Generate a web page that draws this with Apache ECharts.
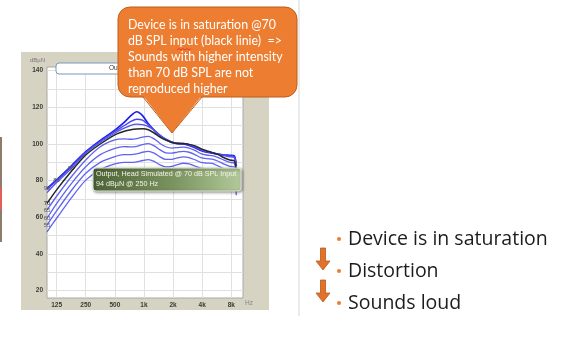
<!DOCTYPE html>
<html>
<head>
<meta charset="utf-8">
<script src="https://cdn.jsdelivr.net/npm/echarts@6/dist/echarts.min.js"></script>
<style>
html,body{margin:0;padding:0;background:#ffffff;}
#chart{width:582px;height:338px;}
</style>
</head>
<body>
<div id="chart"></div>
<script>
// Frequency positions in octaves relative to 125 Hz
const freqOctave = [-0.33, 0, 0.5, 1, 1.5, 2, 2.3, 2.55, 2.75, 2.95, 3.15, 3.35, 3.55, 3.75, 3.95, 4.15, 4.35, 4.55, 4.75, 4.95, 5.15, 5.35, 5.55, 5.75, 5.95, 6.1, 6.17];
const freqTicks = [0, 1, 2, 3, 4, 5, 6];
const freqLabels = ['125', '250', '500', '1k', '2k', '4k', '8k'];
const levelTicks = [20, 30, 40, 50, 60, 70, 80, 90, 100, 110, 120, 130, 140];
const levelLabels = [20, 40, 60, 80, 100, 120, 140];

// Output curves (dBµN) per input level (dB SPL)
const out90 = [75.8, 80.5, 88, 95.8, 102, 107.6, 111.5, 115.5, 117.6, 115.5, 111, 107.5, 104.5, 102.5, 100.8, 100.2, 100, 99.2, 98, 96.5, 95.5, 95, 94.5, 94, 93.8, 93.5, 88];
const out85 = [75.2, 80, 87.5, 95.5, 101.5, 106.8, 109.8, 112.3, 113.5, 113, 110.5, 107.6, 104.8, 102.6, 101, 100.4, 100.2, 99.5, 98.3, 96.8, 95.8, 95.1, 94.5, 93.9, 93.5, 93.2, 89];
const out80 = [73.5, 79, 86.5, 95, 101, 106, 108.5, 110.2, 110.8, 110.6, 109.5, 107.5, 104.8, 102.7, 101.2, 100.5, 100.3, 99.7, 98.6, 97, 96, 95.2, 94.4, 93.6, 93, 92.6, 88.5];
const out70 = [67.6, 75, 85, 94, 100, 105, 106.8, 107.8, 108.2, 108.3, 107.8, 106, 103.8, 102.2, 101, 100.3, 100.3, 99.8, 99, 97.5, 96.3, 95.3, 94.2, 92.5, 91.3, 90.8, 86];
const out65 = [64, 71.5, 82, 91.3, 98.5, 102.2, 102.8, 102.6, 102.9, 103.8, 104.2, 102.8, 100.3, 98.5, 97.8, 98, 98.3, 97.8, 96.5, 94.8, 94, 93.6, 92.6, 91.2, 90, 89.6, 84];
const out60 = [59.5, 67.5, 78.3, 87.6, 94.2, 97.6, 98.6, 98.4, 98.7, 99.7, 100.2, 99, 96.8, 95.2, 95, 95.6, 96, 95.5, 94.2, 92.6, 92, 91.8, 90.6, 89, 87.8, 87.4, 81];
const out55 = [55.8, 63.5, 74.5, 84, 90, 93.1, 94.2, 94.2, 94.6, 95.5, 96, 95, 93, 91.6, 91.6, 92.4, 93, 92.6, 91.4, 90, 89.6, 89.4, 88, 86.4, 85.2, 84.8, 78];
const out50 = [52.1, 59.5, 70.5, 80.3, 86, 89.1, 90, 90, 90.3, 91, 91.5, 90.5, 88.6, 87.5, 87.8, 88.8, 89.5, 89.2, 88, 86.8, 86.5, 86.3, 85, 83.6, 82.5, 82, 72];

const curves = [
  {name: '90', values: out90},
  {name: '85', values: out85},
  {name: '80', values: out80},
  {name: '65', values: out65},
  {name: '60', values: out60},
  {name: '55', values: out55},
  {name: '50', values: out50},
  {name: '70', values: out70}
];

const styleByName = {
  '90': {color: '#2020ea', width: 1.7, label: {idx: 0, offset: [5, 3]}},
  '85': {color: '#4545ee', width: 1.3, label: {idx: 1, offset: [2, 4]}},
  '80': {color: '#5252f0', width: 1.3, label: {idx: 2, offset: [-3, 8]}},
  '70': {color: '#262626', width: 1.5, label: {idx: 0, offset: [5, 5]}},
  '65': {color: '#6262f2', width: 1.3, label: {idx: 0, offset: [5, 7]}},
  '60': {color: '#6262f2', width: 1.3, label: {idx: 0, offset: [5, 8]}},
  '55': {color: '#6262f2', width: 1.3, label: {idx: 0, offset: [5, 10]}},
  '50': {color: '#6262f2', width: 1.3, label: null}
};

const series = curves.map(c => {
  const st = styleByName[c.name];
  const data = freqOctave.map((x, i) => {
    const p = {value: [x, c.values[i]]};
    if (st.label && i === st.label.idx) {
      p.label = {
        show: true, formatter: c.name, position: 'inside', offset: st.label.offset,
        fontSize: 6, color: c.name === '70' ? '#222' : '#555', fontFamily: 'Liberation Sans'
      };
    }
    return p;
  });
  return {
    name: c.name, type: 'line', data: data, smooth: 0.25, showSymbol: true,
    symbol: 'circle', symbolSize: 1, silent: true,
    labelLayout: {hideOverlap: false},
    itemStyle: {color: 'rgba(0,0,0,0)'},
    lineStyle: {color: st.color, width: st.width},
    z: c.name === '70' ? 4 : 3
  };
});

const chart = echarts.init(document.getElementById('chart'), null, {renderer: 'canvas'});

const axisFont = {fontSize: 6.5, color: '#3a3a3a', fontWeight: 'bold', fontFamily: 'Liberation Sans'};

function txt(text, x, y, size, fill, family, z, extra) {
  return Object.assign({type: 'text', z: z, style: Object.assign({
    text: text, x: x, y: y, fill: fill, fontSize: size, fontFamily: family,
    verticalAlign: 'middle'
  }, extra || {})});
}

chart.setOption({
  animation: false,
  grid: {left: 47, top: 67, width: 196, height: 231, show: true, backgroundColor: '#ffffff', borderColor: '#a8a8a8', borderWidth: 1},
  xAxis: {
    type: 'value', min: -0.33, max: 6.4,
    axisLine: {show: false}, axisTick: {show: false, customValues: freqTicks},
    splitLine: {show: true, lineStyle: {color: '#e0e0e0', width: 1}},
    axisLabel: Object.assign({customValues: freqTicks, margin: 4, formatter: v => freqLabels[freqTicks.indexOf(Math.round(v))] || ''}, axisFont)
  },
  yAxis: {
    type: 'value', min: 16, max: 142,
    axisLine: {show: false}, axisTick: {show: false, customValues: levelTicks},
    splitLine: {show: true, lineStyle: {color: '#e0e0e0', width: 1}},
    axisLabel: Object.assign({customValues: levelLabels, margin: 4}, axisFont)
  },
  series: series,
  graphic: {elements: [
    {type: 'rect', z: -20, shape: {x: 0, y: 137, width: 2, height: 105}, style: {fill: '#8d7b6b'}},
    {type: 'rect', z: -19, shape: {x: 0, y: 188, width: 2, height: 22}, style: {fill: '#e35d5d'}},
    {type: 'rect', z: -20, shape: {x: 21, y: 52, width: 248, height: 258}, style: {fill: '#d6d3c3'}},
    {type: 'line', z: -20, shape: {x1: 299, y1: 0, x2: 299, y2: 316}, style: {stroke: '#e4e4e4', lineWidth: 1.5}},
    txt('dBµN', 30, 60, 6, '#777', 'Liberation Sans', 5),
    txt('Hz', 245, 303, 6.5, '#888', 'Liberation Sans', 5),
    {type: 'rect', z: 6, shape: {x: 56, y: 63, width: 180, height: 11, r: 3}, style: {fill: '#ffffff', stroke: '#7b97bb', lineWidth: 1}},
    txt('Output, Head Simulated', 109, 68.5, 6.5, '#333', 'Liberation Sans', 7),
    {type: 'rect', z: 50, shape: {x: 93, y: 168, width: 148, height: 23, r: 3},
      style: {
        fill: new echarts.graphic.LinearGradient(0, 0, 1, 0, [{offset: 0, color: '#4c6236'}, {offset: 0.55, color: '#7b9460'}, {offset: 1, color: '#b3c99a'}]),
        stroke: '#dfe8d4', lineWidth: 1, shadowBlur: 3, shadowColor: 'rgba(0,0,0,0.45)', shadowOffsetX: 1, shadowOffsetY: 1
      }},
    txt('Output, Head Simulated @ 70 dB SPL Input', 96, 174.5, 7.2, '#f3f3e6', 'Liberation Sans', 51),
    txt('94 dBµN @ 250 Hz', 96, 184.5, 7.2, '#f3f3e6', 'Liberation Sans', 51),
    {type: 'rect', z: 60, shape: {x: 118, y: 7, width: 179, height: 90, r: 12}, style: {fill: '#ED7D31', stroke: '#bf5d1d', lineWidth: 1}},
    {type: 'polygon', z: 61, shape: {points: [[143, 95.5], [202, 95.5], [172, 133]]}, style: {fill: '#ED7D31'}},
    {type: 'line', z: 62, shape: {x1: 143, y1: 97, x2: 172, y2: 133}, style: {stroke: '#bf5d1d', lineWidth: 1}},
    {type: 'line', z: 62, shape: {x1: 202, y1: 97, x2: 172, y2: 133}, style: {stroke: '#bf5d1d', lineWidth: 1}},
    {type: 'text', z: 63, style: {
      text: 'Device is in saturation @70\ndB SPL input (black linie)  =>\nSounds with higher intensity\nthan 70 dB SPL are not\nreproduced higher',
      x: 128, y: 17, fill: '#ffffff', fontSize: 12.4, lineHeight: 16, fontFamily: 'Lato, sans-serif',
      verticalAlign: 'top'}},
    {type: 'polyline', z: 64, shape: {points: [[177, 50], [179, 48.5], [181, 50], [183, 48.5], [185, 50], [187, 48.5], [189, 50], [191, 48.5]]}, style: {stroke: '#e03030', lineWidth: 0.8, fill: null}},
    {type: 'circle', z: 5, shape: {cx: 339, cy: 239, r: 2}, style: {fill: '#ED7D31'}},
    {type: 'circle', z: 5, shape: {cx: 339, cy: 271, r: 2}, style: {fill: '#ED7D31'}},
    {type: 'circle', z: 5, shape: {cx: 339, cy: 303, r: 2}, style: {fill: '#ED7D31'}},
    txt('Device is in saturation', 348, 239, 19.5, '#1c1c1c', '"Open Sans"', 5),
    txt('Distortion', 348, 271, 19.5, '#1c1c1c', '"Open Sans"', 5),
    txt('Sounds loud', 348, 303, 19.5, '#1c1c1c', '"Open Sans"', 5),
    {type: 'polygon', z: 5, shape: {points: [[320.5, 248], [325.5, 248], [325.5, 261], [330, 261], [323, 270], [316, 261], [320.5, 261]]}, style: {fill: '#E2712C', stroke: '#b85a1c', lineWidth: 0.8}},
    {type: 'polygon', z: 5, shape: {points: [[320.5, 280], [325.5, 280], [325.5, 293], [330, 293], [323, 302], [316, 293], [320.5, 293]]}, style: {fill: '#E2712C', stroke: '#b85a1c', lineWidth: 0.8}}
  ]}
});
</script>
</body>
</html>
